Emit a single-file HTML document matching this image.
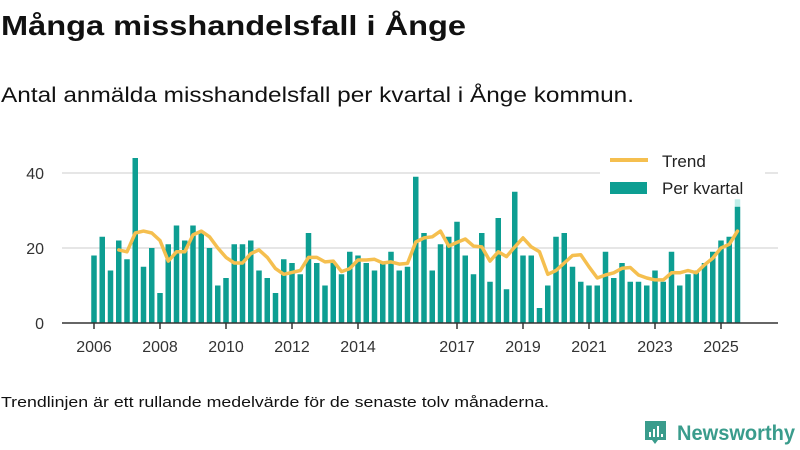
<!DOCTYPE html>
<html><head><meta charset="utf-8"><style>
html,body{margin:0;padding:0;background:#fff;width:800px;height:450px;overflow:hidden}
svg{display:block;font-family:"Liberation Sans",sans-serif}
</style></head><body>
<svg id="chart" width="800" height="450">
<text x="1" y="35" font-size="28" font-weight="bold" fill="#111" textLength="465" lengthAdjust="spacingAndGlyphs">Många misshandelsfall i Ånge</text>
<text x="1" y="102" font-size="21" fill="#111" textLength="633" lengthAdjust="spacingAndGlyphs">Antal anmälda misshandelsfall per kvartal i Ånge kommun.</text>
<g id="grid"></g>
<g id="yaxis"></g>
<g id="bars"></g>
<g id="trend"></g>
<g id="xaxis"></g>
<g>
<rect x="600" y="150" width="165" height="48" fill="#fff"/>
<line x1="610" y1="160" x2="648" y2="160" stroke="#f5bf4f" stroke-width="4"/>
<text x="662" y="167" font-size="17" fill="#222">Trend</text>
<rect x="610" y="182" width="37" height="12" fill="#0d9e92"/>
<text x="662" y="194" font-size="17" fill="#222">Per kvartal</text>
</g>
<text x="1" y="407" font-size="15" fill="#111" textLength="548" lengthAdjust="spacingAndGlyphs">Trendlinjen är ett rullande medelvärde för de senaste tolv månaderna.</text>
<g>
<path d="M645 421 h21 v19 h-8 l-3 4 l-3 -4 h-7 z" fill="#3a9c8c"/>
<rect x="649" y="432" width="2" height="5" fill="#fff"/><rect x="653" y="429" width="2" height="8" fill="#fff"/><rect x="657" y="426" width="2" height="11" fill="#fff"/><rect x="661" y="434" width="2" height="3" fill="#fff"/>
<text x="677" y="440" font-size="21" font-weight="bold" fill="#3a9c8c" textLength="118" lengthAdjust="spacingAndGlyphs">Newsworthy</text>
</g>
</svg>
<script>
const values = [18,23,14,22,17,44,15,20,8,21,26,22,26,24,20,10,12,21,21,22,14,12,8,17,16,13,24,16,10,16,13,19,18,16,14,16,19,14,15,39,24,14,21,23,27,18,13,24,11,28,9,35,18,18,4,10,23,24,15,11,10,10,19,12,16,11,11,10,14,11,19,10,13,14,16,19,22,23,31];
const trend = [null,null,null,19.5,19,24,24.5,24,22,16.5,19,19,23.5,24.5,23,20,17.5,16,16,18.5,19.5,17.5,14.5,13,13.5,14,17.5,17.5,16.3,16.5,13.7,14.5,16.8,16.8,17,16,16.3,15.7,15.9,21.6,22.7,23,24.5,20.5,21.5,22.4,20.5,20.3,16.5,19,17.7,20.3,22.7,20.3,19,13,14,16,18,18.2,15,12,12.8,13.4,14.6,14.8,12.8,12,11.5,11.5,13.4,13.4,14,13.4,15.5,17.3,20,21,24.5];
const yTicks = [0,20,40];
const xTickYears = [2006,2008,2010,2012,2014,2017,2019,2021,2023,2025];
const NS="http://www.w3.org/2000/svg";
const x0=94, step=8.25, yBase=323, yUnit=3.75;
const xq = i => x0 + i*step;
const xYear = yr => x0 + (yr-2006)*4*step;
const y = v => yBase - v*yUnit;
function mk(tag, attrs, parent){const e=document.createElementNS(NS,tag);for(const k in attrs)e.setAttribute(k,attrs[k]);document.getElementById(parent).appendChild(e);return e;}
yTicks.forEach(t=>{
  if(t>0){const g=mk('line',{x1:62,x2:778,y1:y(t),y2:y(t),stroke:'#ddd','stroke-width':1.5},'grid');
  
  }
  const l=mk('text',{x:44,y:y(t)+6,'font-size':16,fill:'#333','text-anchor':'end'},'yaxis');
  l.textContent=t;
  
  
});
values.forEach((v,i)=>{
  const last=i===values.length-1;
  if(last){const h=mk('rect',{x:xq(i)-2.75,y:y(33),width:5.5,height:y(v)-y(33),fill:'#bfeee9'},'bars');
  
  }
  const r=mk('rect',{x:xq(i)-2.75,y:y(v),width:5.5,height:yBase-y(v),fill:'#0d9e92'},'bars');
  
  
});
let d='';
trend.forEach((v,i)=>{if(v===null)return;d+=(d?'L':'M')+xq(i).toFixed(1)+' '+y(v).toFixed(1);});
const p=mk('path',{d:d,fill:'none',stroke:'#f5bf4f','stroke-width':3.5,'stroke-linejoin':'round','stroke-linecap':'round'},'trend');


const ax=mk('line',{x1:62,x2:778,y1:yBase,y2:yBase,stroke:'#333','stroke-width':1.5},'xaxis');


xTickYears.forEach(yr=>{
  const t=mk('line',{x1:xYear(yr),x2:xYear(yr),y1:yBase,y2:yBase+6,stroke:'#333','stroke-width':1.5},'xaxis');
  
  
  const l=mk('text',{x:xYear(yr),y:yBase+29,'font-size':16,fill:'#333','text-anchor':'middle'},'xaxis');
  l.textContent=yr;
  
  
});
</script>
</body></html>
